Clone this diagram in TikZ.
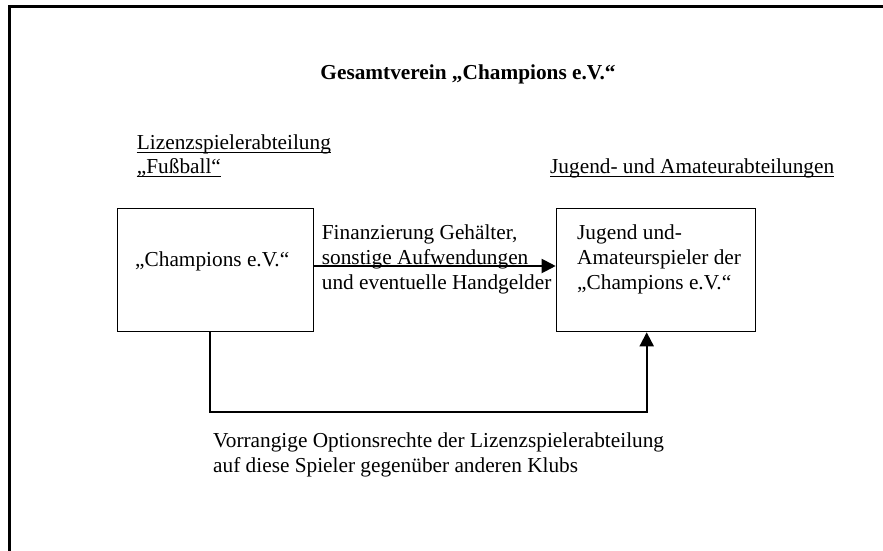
\documentclass[tikz,border=0pt]{standalone}
\usepackage{fontspec}
\setmainfont{Liberation Serif}
\usetikzlibrary{arrows.meta}
% left-aligned lines, first baseline is the reference point
\newcommand\stacklines[1]{\begin{tabular}[t]{@{}l@{}}#1\end{tabular}}
\begin{document}
\begin{tikzpicture}[x=1pt,y=-1pt,
  every node/.style={font=\fontsize{21.3}{25}\selectfont},
  txt/.style={inner sep=0pt, anchor=base west},
  unitbox/.style={draw, line width=1.2pt, inner sep=0pt, minimum height=123.4pt},
  link/.style={line width=2pt, -{Triangle[length=14pt,width=14pt]}},
  underl/.style={line width=1pt},
  frameline/.style={line width=3pt, line join=miter}]
\useasboundingbox (0,0) rectangle (883,551);

% outer frame (top and left edges)
\draw[frameline] (9.5,560) -- (9.5,6.5) -- (890,6.5);

% title
\node[inner sep=0pt, anchor=base, font=\fontsize{21.3}{25}\selectfont\bfseries]
  (title) at (468,79) {Gesamtverein „Champions e.V.“};

% department headings
\node[txt] (lz1) at (136.7,149) {Lizenzspielerabteilung};
\node[txt] (lz2) at (136.7,173) {„Fußball“};
\node[txt] (ja)  at (550,173) {Jugend- und Amateurabteilungen};
\draw[underl] ([yshift=-3.5pt]lz1.base west) -- ([yshift=-3.5pt]lz1.base east);
\draw[underl] ([yshift=-3.5pt]lz2.base west) -- ([yshift=-3.5pt]lz2.base east);
\draw[underl] ([yshift=-3.5pt]ja.base west) -- ([yshift=-3.5pt]ja.base east);

% boxes
\node[unitbox, minimum width=196pt] (lbox) at (215.5,270) {};
\node[unitbox, minimum width=199pt] (rbox) at (655.8,270) {};
\node[txt] (ltext) at (135,266) {„Champions e.V.“};
\node[txt] (rtext) at (577,239.5) {\stacklines{Jugend und-\\Amateurspieler der\\„Champions e.V.“}};

% financing arrow
\coordinate (ay) at (0,266);
\draw[link] (lbox.east |- ay) -- (rbox.west |- ay);
\node[txt] (flabel) at (321.7,239.5) {\stacklines{Finanzierung Gehälter,\\sonstige Aufwendungen\\und eventuelle Handgelder}};

% option rights connector
\coordinate (bl) at (210,412.3);
\coordinate (br) at (646.7,412.3);
\draw[link, line join=miter] (lbox.south -| bl) -- (bl) -- (br) -- (rbox.south -| br);
\node[txt] (olabel) at (213,447) {\stacklines{Vorrangige Optionsrechte der Lizenzspielerabteilung\\auf diese Spieler gegenüber anderen Klubs}};
\end{tikzpicture}
\end{document}
